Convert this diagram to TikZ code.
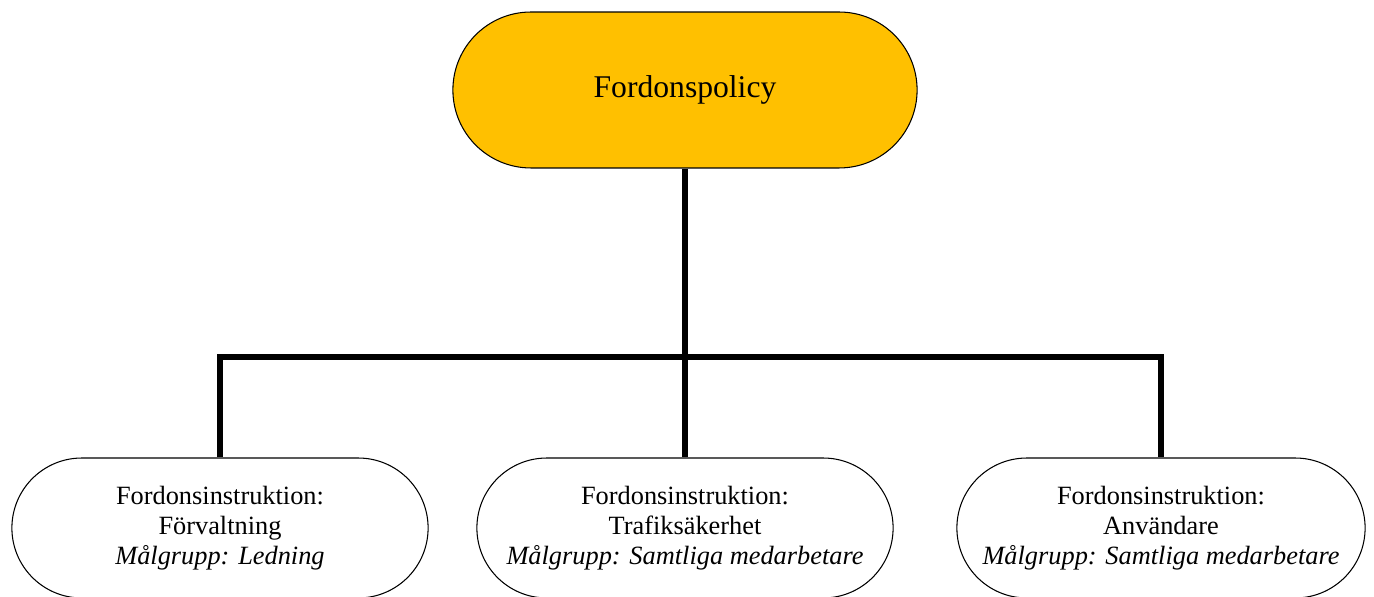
\documentclass[tikz,border=0pt]{standalone}
\usepackage{fontspec}
\setmainfont{Liberation Serif}
\usetikzlibrary{shapes.misc}

\definecolor{policygold}{HTML}{FFC000}

\tikzset{
  policybox/.style={rounded rectangle, draw=black, line width=0.6pt, fill=policygold,
    minimum width=9.52cm, minimum height=3.12cm, font=\fontsize{18}{22}\selectfont},
  instrbox/.style={rounded rectangle, draw=black, line width=0.6pt, fill=white,
    minimum height=2.8cm, align=center, font=\fontsize{15}{17}\selectfont},
  link/.style={line width=3.2pt}
}

\begin{document}
\begin{tikzpicture}[x=0.02cm, y=-0.02cm]

    %% Background
    \useasboundingbox (0,0) rectangle (1374,597);

    %% Policy
    \node[policybox] (policy) at (685,90) {Fordonspolicy};

    %% Instructions
    \node[instrbox, minimum width=8.56cm] (forv) at (220,528)
        {Fordonsinstruktion:\\ Förvaltning\\ \textit{Målgrupp: Ledning}};
    \node[instrbox, minimum width=8.56cm] (trafik) at (685,528)
        {Fordonsinstruktion:\\ Trafiksäkerhet\\ \textit{Målgrupp: Samtliga medarbetare}};
    \node[instrbox, minimum width=8.40cm] (anv) at (1161,528)
        {Fordonsinstruktion:\\ Användare\\ \textit{Målgrupp: Samtliga medarbetare}};

    %% Links
    \coordinate (bus) at (685,357);
    \draw[link] (policy.south) to (trafik.north);
    \draw[link] (forv.north) to (forv.north |- bus) to (anv.north |- bus) to (anv.north);

\end{tikzpicture}
\end{document}
